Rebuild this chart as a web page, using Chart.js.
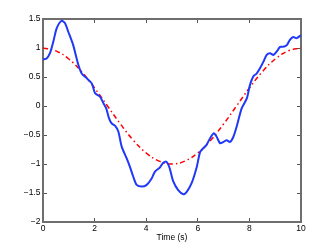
<!DOCTYPE html>
<html>
<head>
<meta charset="utf-8">
<script src="https://cdn.jsdelivr.net/npm/chart.js@4"></script>
<style>
  body { margin: 0; background: #fff; }
  canvas { display: block; }
</style>
</head>
<body>
<canvas id="grafica" width="332" height="250"></canvas>
<script>
// measured signal (blue)
var tMeasured = [0, 0.14, 0.27, 0.40, 0.53, 0.72, 0.85, 0.98, 1.17, 1.37, 1.50, 1.69, 1.89, 2.02, 2.21, 2.34, 2.45, 2.55, 2.66, 2.79, 2.92, 3.05, 3.24, 3.37, 3.50, 3.63, 3.83, 4.02, 4.21, 4.34, 4.53, 4.66, 4.78, 4.90, 5.05, 5.24, 5.44, 5.57, 5.76, 5.96, 6.09, 6.21, 6.34, 6.47, 6.62, 6.73, 6.86, 6.99, 7.12, 7.25, 7.38, 7.51, 7.70, 7.90, 8.02, 8.15, 8.28, 8.41, 8.54, 8.67, 8.80, 8.93, 9.06, 9.19, 9.31, 9.45, 9.57, 9.70, 9.83, 10];
var vMeasured = [0.80, 0.82, 0.91, 1.11, 1.34, 1.47, 1.43, 1.28, 1.05, 0.71, 0.56, 0.48, 0.39, 0.22, 0.16, 0.05, -0.04, -0.20, -0.30, -0.34, -0.44, -0.70, -0.90, -1.05, -1.22, -1.36, -1.39, -1.36, -1.25, -1.13, -1.06, -0.98, -0.96, -1.06, -1.30, -1.45, -1.52, -1.48, -1.33, -1.05, -0.79, -0.73, -0.67, -0.56, -0.47, -0.53, -0.64, -0.62, -0.59, -0.62, -0.53, -0.35, -0.04, 0.13, 0.36, 0.51, 0.56, 0.65, 0.76, 0.88, 0.91, 0.88, 0.94, 1.02, 1.02, 1.05, 1.14, 1.19, 1.17, 1.22];

// reference curve (red dash-dot)
var tRef = [0, 0.5, 1, 1.5, 2, 2.5, 3, 3.5, 4, 4.5, 5, 5.5, 6, 6.5, 7, 7.5, 8, 8.5, 9, 9.5, 10];
var vRef = [1, 0.95, 0.81, 0.59, 0.31, 0, -0.31, -0.59, -0.81, -0.95, -1, -0.95, -0.81, -0.59, -0.31, 0, 0.31, 0.59, 0.81, 0.95, 1];

var xTicks = [0, 2, 4, 6, 8, 10];
var yTicks = [-2, -1.5, -1, -0.5, 0, 0.5, 1, 1.5];

function puntos(xs, ys) {
	return xs.map(function(x, i) { return { x: x, y: ys[i] }; });
}

function etiqueta(v) {
	return String(v).replace('-', '\u2212');
}

function fijarTicks(lista) {
	return function(s) { s.ticks = lista.map(function(v) { return { value: v }; }); };
}

var fuente = { family: "'Liberation Sans', Arial, sans-serif", size: 8.5 };
// inward tick marks (negative length), no grid lines inside the box
var marcas = { display: true, drawOnChartArea: false, drawTicks: true, tickLength: -4, color: '#555555', lineWidth: 1 };
var borde = { display: true, color: '#6e6e6e', width: 2 };

new Chart(document.getElementById('grafica'), {
	type: 'line',
	data: {
		datasets: [{
			label: 'measured',
			data: puntos(tMeasured, vMeasured),
			borderColor: '#2038f8',
			borderWidth: 2,
			pointRadius: 0,
			tension: 0.25,
			fill: false
		}, {
			label: 'reference',
			data: puntos(tRef, vRef),
			borderColor: '#ff0000',
			borderWidth: 1.5,
			borderDash: [5, 3, 1.5, 3],
			pointRadius: 0,
			tension: 0.4,
			fill: false
		}]
	},
	options: {
		responsive: false,
		animation: false,
		layout: { padding: { top: 19, right: 31, left: 0, bottom: 0 } },
		plugins: { legend: { display: false }, tooltip: { enabled: false } },
		scales: {
			x: {
				type: 'linear',
				position: 'bottom',
				min: 0,
				max: 10,
				grid: marcas,
				border: borde,
				afterFit: function(s) { s.height = 28; },
				afterBuildTicks: fijarTicks(xTicks),
				ticks: { color: '#000', font: fuente, padding: 6, maxRotation: 0, callback: etiqueta },
				title: { display: true, text: 'Time (s)', color: '#000', font: fuente, padding: { top: 0, bottom: 7 } }
			},
			x2: {
				type: 'linear',
				position: 'top',
				min: 0,
				max: 10,
				grid: marcas,
				border: borde,
				afterFit: function(s) { s.height = 0; },
				afterBuildTicks: fijarTicks(xTicks),
				ticks: { display: false }
			},
			y: {
				type: 'linear',
				position: 'left',
				min: -2,
				max: 1.5,
				grid: marcas,
				border: borde,
				afterFit: function(s) { s.width = 43; },
				afterBuildTicks: fijarTicks(yTicks),
				ticks: { color: '#000', font: fuente, padding: 6.5, callback: etiqueta }
			},
			y2: {
				type: 'linear',
				position: 'right',
				min: -2,
				max: 1.5,
				grid: marcas,
				border: borde,
				afterFit: function(s) { s.width = 0; },
				afterBuildTicks: fijarTicks(yTicks),
				ticks: { display: false }
			}
		}
	}
});
</script>
</body>
</html>
